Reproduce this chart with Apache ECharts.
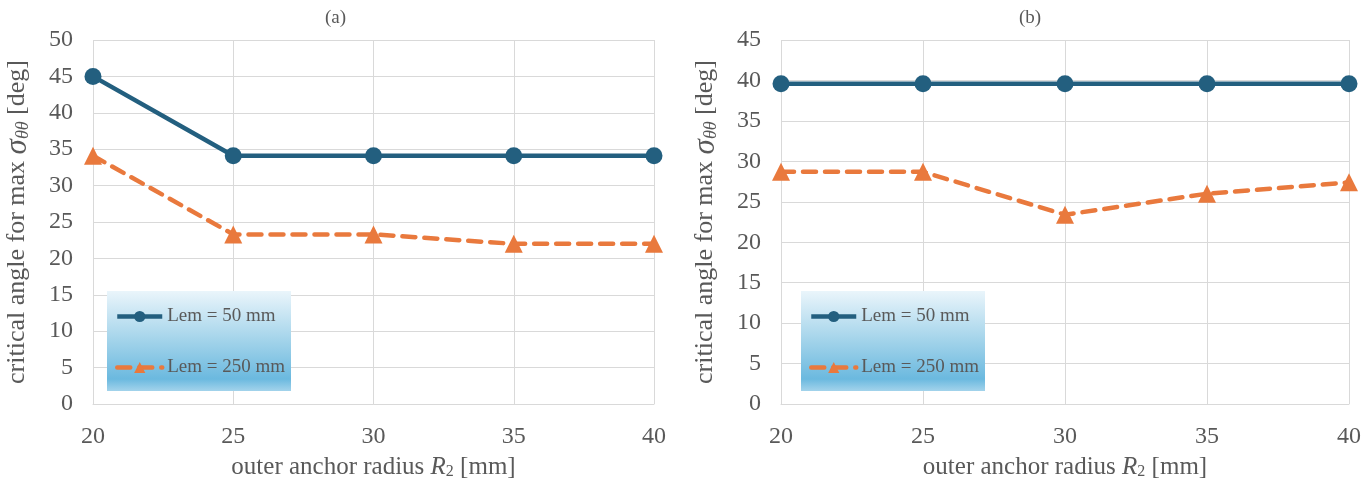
<!DOCTYPE html>
<html><head><meta charset="utf-8">
<script src="https://cdn.jsdelivr.net/npm/echarts@6/dist/echarts.min.js"></script>
<style>html,body{margin:0;padding:0;background:#fff}#c{width:1372px;height:478px}</style>
</head><body><div id="c"></div>
<script>
const xValues = [20, 25, 30, 35, 40];
const aLem50 = [45, 34.1, 34.1, 34.1, 34.1];
const aLem250 = [34.1, 23.3, 23.3, 22.0, 22.0];
const bLem50 = [39.6, 39.6, 39.6, 39.6, 39.6];
const bLem250 = [28.7, 28.7, 23.4, 26.0, 27.4];
const names = ['Lem = 50 mm', 'Lem = 250 mm'];
const titles = ['(a)', '(b)'];

const FONT = '"Liberation Serif", "DejaVu Serif", serif';
const GRAY = '#595959';
const BLUE = '#235f7f';
const ORANGE = '#e9793d';
const pair = (xs, ys) => xs.map((x, i) => [x, ys[i]]);

const chart = echarts.init(document.getElementById('c'));
const grids = [
  {left: 93, right: 718, top: 40, bottom: 74, outerBoundsMode: 'none', containLabel: false},
  {left: 781, right: 23, top: 40, bottom: 74, outerBoundsMode: 'none', containLabel: false}
];
const yMax = [50, 45];
const xAxes = grids.map((g, i) => ({
  type: 'value', gridIndex: i, min: 20, max: 40, interval: 5,
  axisLine: {show: true, lineStyle: {color: '#d9d9d9', width: 1}},
  axisTick: {show: false},
  splitLine: {show: true, lineStyle: {color: '#d9d9d9', width: 1}},
  axisLabel: {color: GRAY, fontFamily: FONT, fontSize: 24, margin: 21},
  name: 'outer anchor radius {i|R}{s|2} [mm]', nameLocation: 'middle', nameGap: 50,
  nameTextStyle: {color: GRAY, fontFamily: FONT, fontSize: 25,
    rich: {i: {fontStyle: 'italic', fontFamily: FONT, fontSize: 25, color: GRAY},
           s: {fontFamily: FONT, fontSize: 16, color: GRAY, padding: [10, 0, 0, 0]}}}
}));
const yAxes = grids.map((g, i) => ({
  type: 'value', gridIndex: i, min: 0, max: yMax[i], interval: 5,
  axisLine: {show: false}, axisTick: {show: false},
  splitLine: {show: true, lineStyle: {color: '#d9d9d9', width: 1}},
  axisLabel: {color: GRAY, fontFamily: FONT, fontSize: 24, margin: 20},
  name: 'critical angle for max {i|σ}{s|θθ} [deg]', nameLocation: 'middle', nameGap: 60, nameRotate: 90,
  nameTextStyle: {color: GRAY, fontFamily: FONT, fontSize: 26,
    rich: {i: {fontStyle: 'italic', fontFamily: FONT, fontSize: 31, color: GRAY},
           s: {fontStyle: 'italic', fontFamily: FONT, fontSize: 18, color: GRAY, padding: [11, 0, 0, 0]}}}
}));
function blueSeries(i, data) {
  return {name: names[0], type: 'line', xAxisIndex: i, yAxisIndex: i, data: pair(xValues, data),
    symbol: 'circle', symbolSize: 17, lineStyle: {color: BLUE, width: 4.5}, itemStyle: {color: BLUE},
    z: 3, animation: false};
}
function orangeSeries(i, data) {
  return {name: names[1], type: 'line', xAxisIndex: i, yAxisIndex: i, data: pair(xValues, data),
    symbol: 'triangle', symbolSize: 18, lineStyle: {color: ORANGE, width: 4.5, type: [13, 9], cap: 'round'},
    itemStyle: {color: ORANGE}, z: 2, animation: false};
}
const grad = {type: 'linear', x: 0, y: 0, x2: 0, y2: 1, colorStops: [
  {offset: 0, color: '#eaf5fb'}, {offset: 0.5, color: '#a2d3ea'},
  {offset: 0.88, color: '#6bb9df'}, {offset: 1, color: '#a3d3eb'}]};
const legendBoxes = [107, 801];
chart.setOption({
  animation: false,
  grid: grids,
  xAxis: xAxes, yAxis: yAxes,
  series: [blueSeries(0, aLem50), orangeSeries(0, aLem250), blueSeries(1, bLem50), orangeSeries(1, bLem250)],
  legend: legendBoxes.map(x => ({
    data: names, orient: 'vertical', left: x + 3, top: 302, itemGap: 32, itemWidth: 45, itemHeight: 14,
    lineStyle: {width: 4.5},
    textStyle: {color: GRAY, fontFamily: FONT, fontSize: 19}, selectedMode: false
  })),
  graphic: [
    ...legendBoxes.map(x => ({type: 'rect', left: x, top: 291, shape: {width: 184, height: 100},
      style: {fill: grad}, z: 1, silent: true})),
    {type: 'text', left: 325, top: 9, style: {text: titles[0], font: '19px ' + FONT, fill: GRAY}},
    {type: 'text', left: 1019, top: 9, style: {text: titles[1], font: '19px ' + FONT, fill: GRAY}}
  ]
});
</script></body></html>
